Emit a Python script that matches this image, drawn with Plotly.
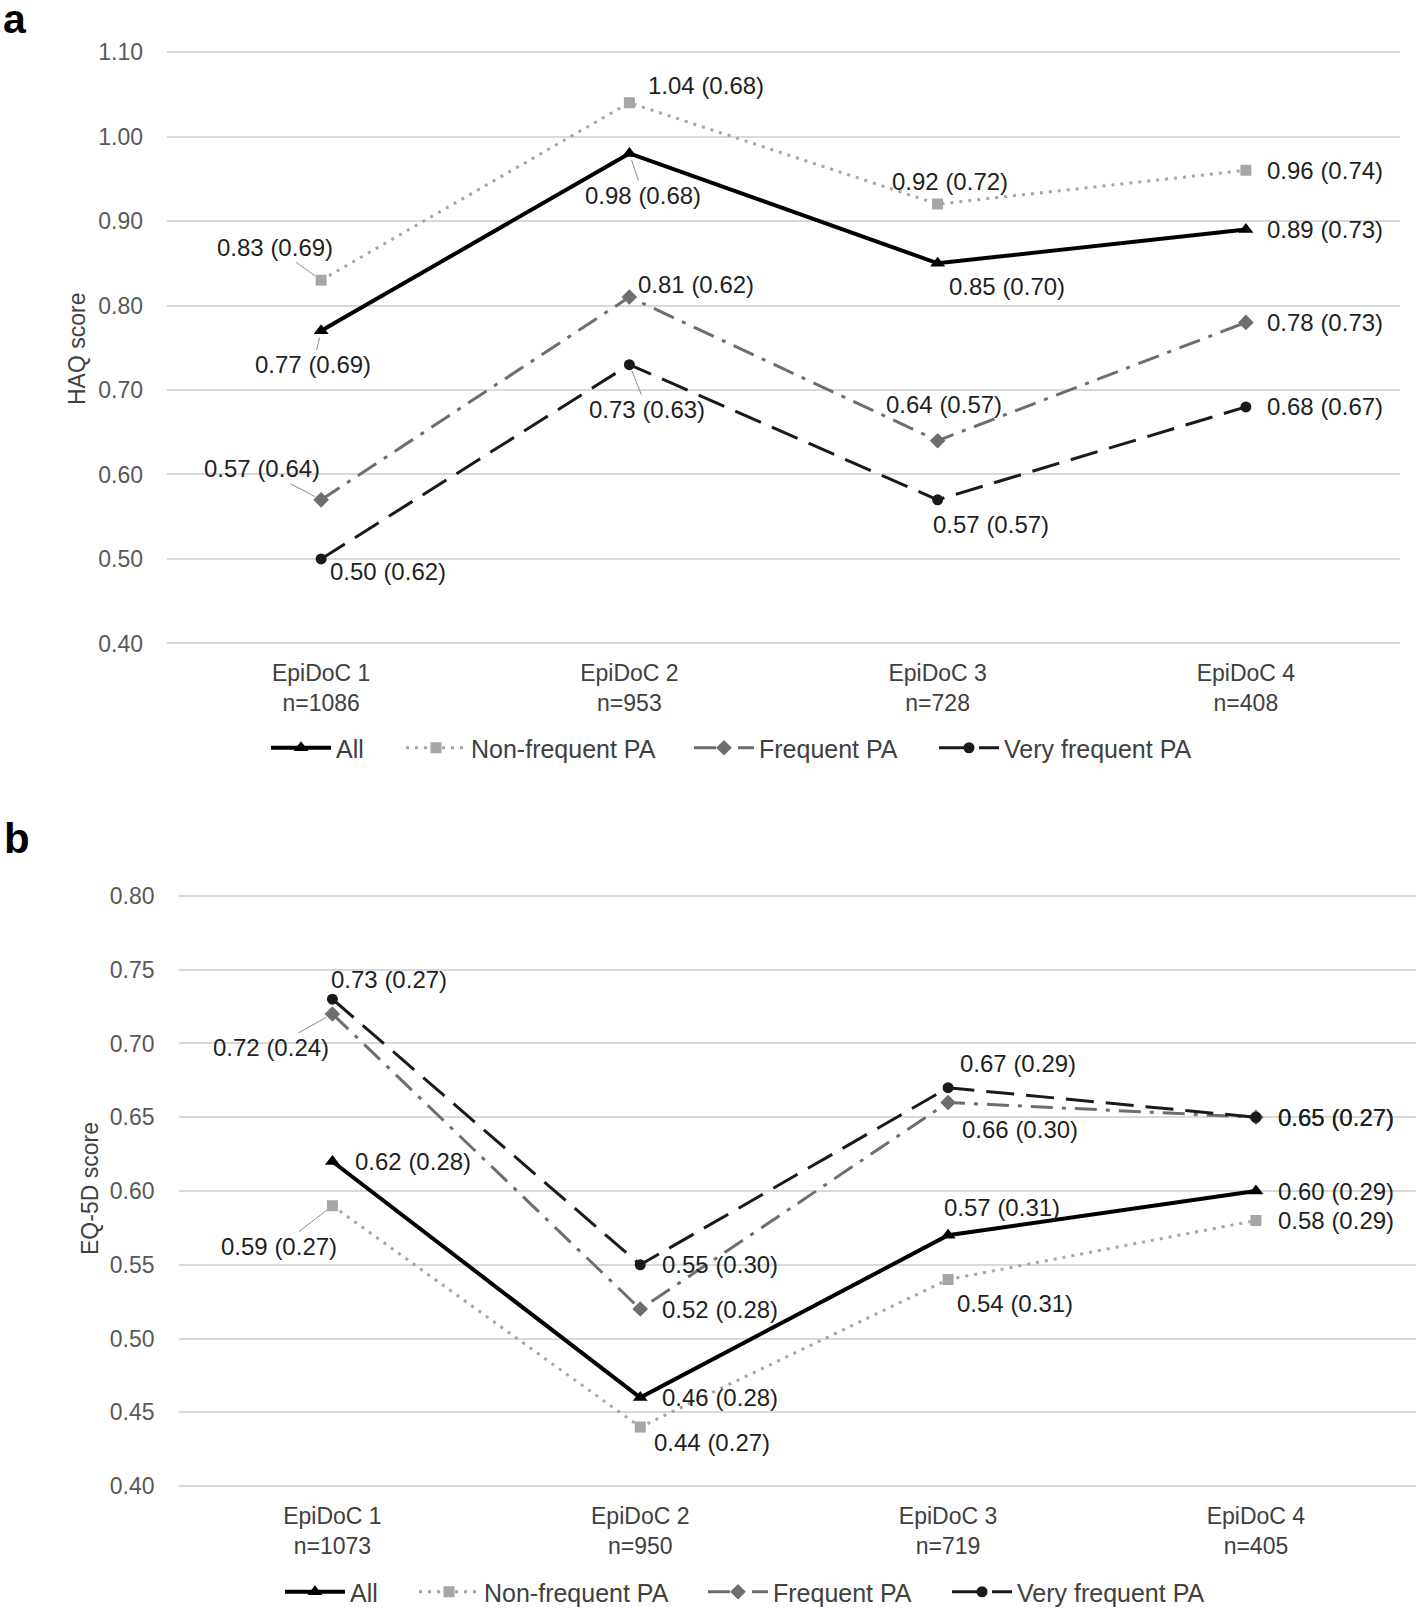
import plotly.graph_objects as go

# ---------------- data ----------------
cats_a = ["EpiDoC 1<br>n=1086", "EpiDoC 2<br>n=953", "EpiDoC 3<br>n=728", "EpiDoC 4<br>n=408"]
cats_b = ["EpiDoC 1<br>n=1073", "EpiDoC 2<br>n=950", "EpiDoC 3<br>n=719", "EpiDoC 4<br>n=405"]
series_names = ["All", "Non-frequent PA", "Frequent PA", "Very frequent PA"]

haq_all = [0.77, 0.98, 0.85, 0.89]
haq_all_sd = [0.69, 0.68, 0.70, 0.73]
haq_nf = [0.83, 1.04, 0.92, 0.96]
haq_nf_sd = [0.69, 0.68, 0.72, 0.74]
haq_f = [0.57, 0.81, 0.64, 0.78]
haq_f_sd = [0.64, 0.62, 0.57, 0.73]
haq_vf = [0.50, 0.73, 0.57, 0.68]
haq_vf_sd = [0.62, 0.63, 0.57, 0.67]

eq_all = [0.62, 0.46, 0.57, 0.60]
eq_all_sd = [0.28, 0.28, 0.31, 0.29]
eq_nf = [0.59, 0.44, 0.54, 0.58]
eq_nf_sd = [0.27, 0.27, 0.31, 0.29]
eq_f = [0.72, 0.52, 0.66, 0.65]
eq_f_sd = [0.24, 0.28, 0.30, 0.27]
eq_vf = [0.73, 0.55, 0.67, 0.65]
eq_vf_sd = [0.27, 0.30, 0.29, 0.27]

haq_ticks = [0.40, 0.50, 0.60, 0.70, 0.80, 0.90, 1.00, 1.10]
eq_ticks = [0.40, 0.45, 0.50, 0.55, 0.60, 0.65, 0.70, 0.75, 0.80]

# ---------------- layout helpers (page pixels -> paper fractions) ----------------
FW, FH = 1416, 1608


def px(x):
    return min(max(x / FW, 0.0), 1.0)


def py(y):
    return min(max(1 - y / FH, 0.0), 1.0)


FONT = "Liberation Sans, Arial, sans-serif"
styles = [
    dict(color="#000000", width=4, dash="solid", symbol="triangle-up", msize=13),
    dict(color="#a6a6a6", width=3, dash="3px,6px", symbol="square", msize=11),
    dict(color="#6e6e6e", width=3, dash="22px,9px,4px,9px", symbol="diamond", msize=12),
    dict(color="#1a1a1a", width=3, dash="28px,12px", symbol="circle", msize=11),
]

# label offsets (dx, dy downward, leader?) per series per point
offs_a = [
    [(-8, 34, True), (14, 42, True), (69, 23, False), (79, 0, False)],
    [(-46, -33, True), (77, -17, False), (12, -23, False), (79, 0, False)],
    [(-59, -31, True), (67, -13, False), (6, -36, False), (79, 0, False)],
    [(67, 13, False), (18, 45, True), (53, 25, False), (79, 0, False)],
]
offs_b = [
    [(81, 0, False), (80, 0, False), (54, -28, False), (80, 0, False)],
    [(-53, 41, True), (72, 15, False), (67, 24, False), (80, 0, False)],
    [(-61, 34, True), (80, 0, False), (72, 27, False), (80, 0, False)],
    [(57, -20, False), (80, 0, False), (70, -24, False), (80, 0, False)],
]
# legend item symbol start (page px) and row centre
leg_a_x, leg_a_y = [271, 406, 694, 939], 748
leg_b_x, leg_b_y = [285, 419, 708, 952], 1592
LEG_PAD = 5

fig = go.Figure()
annotations = []
legends = {}


def add_panel(vals, sds, offs, xa, ya, leg_ids, leg_x, leg_y):
    for i, (v, sd, st, name) in enumerate(zip(vals, sds, styles, series_names)):
        lid = leg_ids[i]
        fig.add_trace(go.Scatter(
            x=[0, 1, 2, 3], y=v, mode="lines+markers", name=name,
            line=dict(color=st["color"], width=st["width"], dash=st["dash"]),
            marker=dict(symbol=st["symbol"], size=st["msize"], color=st["color"]),
            xaxis=xa, yaxis=ya, legend=lid,
        ))
        legends[lid] = dict(orientation="h", x=px(leg_x[i] - LEG_PAD), y=py(leg_y),
                            xanchor="left", yanchor="middle",
                            font=dict(family=FONT, size=25, color="#404040"),
                            bgcolor="rgba(0,0,0,0)", itemwidth=60)
        for j, (val, s) in enumerate(zip(v, sd)):
            dx, dy, lead = offs[i][j]
            txt = f"{val:.2f} ({s:.2f})"
            common = dict(x=j, y=val, xref=xa, yref=ya, text=txt,
                          font=dict(family=FONT, size=24, color="#1f1f1f"))
            if lead:
                annotations.append(dict(**common, showarrow=True, ax=dx, ay=dy,
                                        arrowhead=0, arrowwidth=1, arrowcolor="#8c8c8c",
                                        standoff=7))
            else:
                annotations.append(dict(**common, showarrow=False, xshift=dx, yshift=-dy))


add_panel([haq_all, haq_nf, haq_f, haq_vf], [haq_all_sd, haq_nf_sd, haq_f_sd, haq_vf_sd],
          offs_a, "x", "y", ["legend", "legend2", "legend3", "legend4"], leg_a_x, leg_a_y)
add_panel([eq_all, eq_nf, eq_f, eq_vf], [eq_all_sd, eq_nf_sd, eq_f_sd, eq_vf_sd],
          offs_b, "x2", "y2", ["legend5", "legend6", "legend7", "legend8"], leg_b_x, leg_b_y)

# panel letters and axis titles
annotations += [
    dict(text="<b>a</b>", x=px(15), y=py(19), xref="paper", yref="paper", showarrow=False,
         font=dict(family=FONT, size=41, color="#000"), xanchor="center", yanchor="middle"),
    dict(text="<b>b</b>", x=px(17), y=py(838), xref="paper", yref="paper", showarrow=False,
         font=dict(family=FONT, size=42, color="#000"), xanchor="center", yanchor="middle"),
    dict(text="HAQ score", x=px(77), y=py(349), xref="paper", yref="paper", showarrow=False,
         textangle=-90, xanchor="center", yanchor="middle",
         font=dict(family=FONT, size=23, color="#404040")),
    dict(text="EQ-5D score", x=px(90), y=py(1189), xref="paper", yref="paper", showarrow=False,
         textangle=-90, xanchor="center", yanchor="middle",
         font=dict(family=FONT, size=23, color="#404040")),
]

tickfont = dict(family=FONT, size=23, color="#595959")
xtickfont = dict(family=FONT, size=23, color="#404040")
xcommon = dict(tickvals=[0, 1, 2, 3], showgrid=False, zeroline=False,
               showline=False, ticks="", tickfont=xtickfont, ticklabelstandoff=11,
               automargin=False)
ycommon = dict(showgrid=True, gridcolor="#d9d9d9", gridwidth=1.5, zeroline=False, showline=False,
               ticks="", tickfont=tickfont, tickformat=".2f", ticklabelstandoff=23,
               automargin=False)

fig.update_layout(
    width=FW, height=FH, margin=dict(l=0, r=0, t=0, b=0, autoexpand=False),
    paper_bgcolor="white", plot_bgcolor="white",
    showlegend=True,
    xaxis=dict(**xcommon, domain=[px(167), px(1400)], range=[-0.5, 3.5], ticktext=cats_a,
               anchor="y"),
    yaxis=dict(**ycommon, domain=[py(646.0), py(49.5)], range=[0.397, 1.103],
               tickvals=haq_ticks, anchor="x"),
    xaxis2=dict(**xcommon, domain=[px(178.5), px(1416)], range=[-0.5, 3.52], ticktext=cats_b,
                anchor="y2"),
    yaxis2=dict(**ycommon, domain=[py(1489), py(893)], range=[0.398, 0.802],
                tickvals=eq_ticks, anchor="x2"),
    annotations=annotations,
    **legends,
)

fig.write_html("out.html", config={"displayModeBar": False},
               post_script="document.body.style.margin='0';document.body.style.overflow='hidden';")
